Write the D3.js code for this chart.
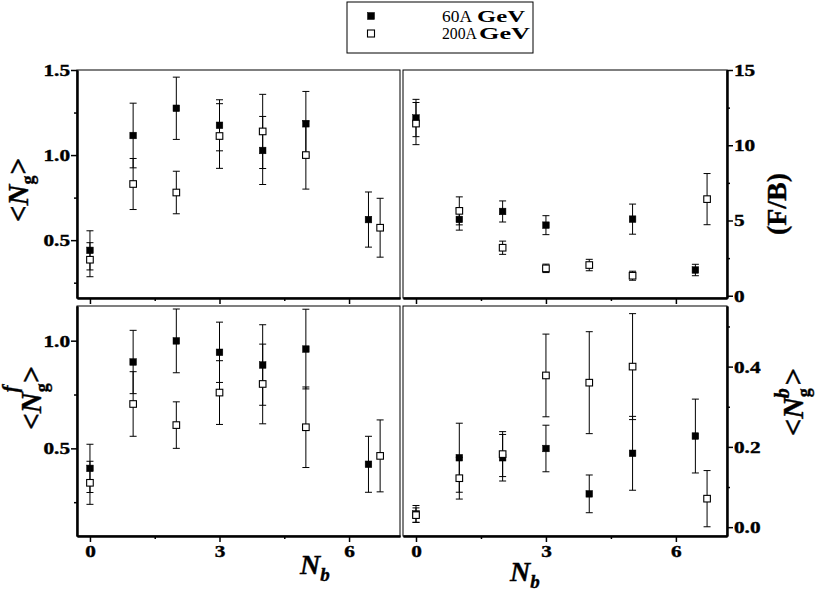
<!DOCTYPE html>
<html>
<head>
<meta charset="utf-8">
<script src="https://cdn.jsdelivr.net/npm/d3@7"></script>
<style>
body { margin: 0; background: #fff; }
svg text { font-family: "Liberation Serif", "Times New Roman", serif; font-weight: bold; fill: #000; }
.heavy { stroke: #000; stroke-width: 0.4px; }
</style>
</head>
<body>
<svg id="chart" width="818" height="596"></svg>
<script>
// N_b positions (last bin drawn slightly offset for each energy)
var nb60 = [0, 1, 2, 3, 4, 5, 6.45];
var nb200 = [0, 1, 2, 3, 4, 5, 6.72];

// <N_g>
var ng60 = [0.44, 1.115, 1.275, 1.175, 1.027, 1.184, 0.621];
var ng60Err = [0.115, 0.19, 0.183, 0.15, 0.2, 0.19, 0.162];
var ng200 = [0.385, 0.83, 0.78, 1.112, 1.139, 1.0, 0.573];
var ng200Err = [0.1, 0.15, 0.125, 0.19, 0.218, 0.2, 0.173];

// F/B
var fb60 = [11.81, 5.07, 5.6, 4.69, null, 5.09, 1.71];
var fb60Err = [1.24, 0.71, 0.7, 0.63, null, 1.0, 0.38];
var fb200 = [11.44, 5.64, 3.19, 1.82, 2.04, 1.33, 6.42];
var fb200Err = [1.4, 0.93, 0.44, 0.28, 0.38, 0.3, 1.7];

// <N_g^f>
var ngf60 = [0.407, 0.901, 0.999, 0.946, 0.887, 0.961, 0.426];
var ngf60Err = [0.112, 0.147, 0.148, 0.14, 0.187, 0.185, 0.13];
var ngf200 = [0.34, 0.706, 0.608, 0.759, 0.799, 0.598, 0.465];
var ngf200Err = [0.1, 0.15, 0.108, 0.148, 0.185, 0.187, 0.167];

// <N_g^b>
var ngb60 = [0.033, 0.173, 0.173, 0.196, 0.083, 0.184, 0.227];
var ngb60Err = [0.021, 0.086, 0.058, 0.058, 0.047, 0.092, 0.092];
var ngb200 = [0.03, 0.122, 0.182, 0.378, 0.36, 0.4, 0.071];
var ngb200Err = [0.018, 0.052, 0.056, 0.103, 0.127, 0.132, 0.07];

var legendLabels = ['60A', '200A'];
var xDomain = [-0.3, 7.18];
var xMajor = [0, 3, 6];
var xMinor = [1.5, 4.5];

var svg = d3.select('#chart');
var stretch = 1.25; // tick labels in the original are wide

function styleAxis(g, width) {
    g.attr('font-size', null).attr('font-family', null);
    g.selectAll('.domain').attr('stroke', '#000').attr('stroke-width', width);
    g.selectAll('.tick line').attr('stroke', '#000').attr('stroke-width', 1.5);
    g.selectAll('.tick text')
        .classed('heavy', true)
        .attr('font-size', 17).style('font-size', '17px').attr('fill', '#000')
        .attr('x', function() {
            var v = d3.select(this).attr('x');
            return v == null ? null : v / stretch;
        })
        .attr('transform', 'scale(' + stretch + ',1)');
}

function drawPanel(p) {
    var x = d3.scaleLinear().domain(xDomain).range([p.left, p.right]);
    var y = d3.scaleLinear().domain(p.yDomain).range([p.bottom, p.top]);

    svg.append('rect')
        .attr('x', p.left).attr('y', p.top)
        .attr('width', p.right - p.left).attr('height', p.bottom - p.top)
        .attr('fill', 'none').attr('stroke', '#000').attr('stroke-width', 1);

    // x axis, minor then major
    var gxm = svg.append('g').attr('transform', 'translate(0,' + p.bottom + ')')
        .call(d3.axisBottom(x).tickValues(xMinor).tickSize(3).tickSizeOuter(0).tickFormat(''));
    styleAxis(gxm, 2);
    var gx = svg.append('g').attr('transform', 'translate(0,' + p.bottom + ')')
        .call(d3.axisBottom(x).tickValues(xMajor).tickSize(6).tickSizeOuter(0).tickPadding(3)
            .tickFormat(p.xLabels ? d3.format('d') : ''));
    styleAxis(gx, 2);

    // y axis on the outer side
    var ax = p.side == 'left' ? d3.axisLeft : d3.axisRight;
    var yx = p.side == 'left' ? p.left : p.right;
    var gym = svg.append('g').attr('transform', 'translate(' + yx + ',0)')
        .call(ax(y).tickValues(p.yMinor).tickSize(3).tickSizeOuter(0).tickFormat(''));
    styleAxis(gym, 2);
    var gy = svg.append('g').attr('transform', 'translate(' + yx + ',0)')
        .call(ax(y).tickValues(p.yMajor).tickSize(6).tickSizeOuter(0).tickPadding(1).tickFormat(d3.format(p.yFormat)));
    styleAxis(gy, 2);

    p.series.forEach(function(s) {
        var pts = s.xs.map(function(v, i) {
            return { x: v, y: s.ys[i], e: s.errs[i] };
        }).filter(function(d) { return d.y != null; });

        var eb = svg.append('g').attr('stroke', '#000').attr('stroke-width', 1);
        pts.forEach(function(d) {
            var cx = x(d.x), hi = y(d.y + d.e), lo = y(d.y - d.e);
            eb.append('line').attr('x1', cx).attr('x2', cx).attr('y1', hi).attr('y2', lo);
            eb.append('line').attr('x1', cx - 3.5).attr('x2', cx + 3.5).attr('y1', hi).attr('y2', hi);
            eb.append('line').attr('x1', cx - 3.5).attr('x2', cx + 3.5).attr('y1', lo).attr('y2', lo);
        });

        svg.append('g').selectAll('rect').data(pts).join('rect')
            .attr('x', function(d) { return x(d.x) - 3.3; })
            .attr('y', function(d) { return y(d.y) - 3.3; })
            .attr('width', 6.6).attr('height', 6.6)
            .attr('fill', s.filled ? '#000' : '#fff')
            .attr('stroke', '#000').attr('stroke-width', s.filled ? 0.5 : 1.1);
    });
}

function series(ys60, err60, ys200, err200) {
    return [
        { xs: nb60, ys: ys60, errs: err60, filled: true },
        { xs: nb200, ys: ys200, errs: err200, filled: false }
    ];
}

var top0 = 70, top1 = 298, bot0 = 306, bot1 = 536;
var left0 = 77, left1 = 400, right0 = 403, right1 = 727;

drawPanel({ left: left0, right: left1, top: top0, bottom: top1, yDomain: [0.16, 1.5],
    yMajor: [0.5, 1.0, 1.5], yMinor: [0.25, 0.75, 1.25], yFormat: '.1f', side: 'left', xLabels: false,
    series: series(ng60, ng60Err, ng200, ng200Err) });
drawPanel({ left: right0, right: right1, top: top0, bottom: top1, yDomain: [-0.15, 15],
    yMajor: [0, 5, 10, 15], yMinor: [2.5, 7.5, 12.5], yFormat: 'd', side: 'right', xLabels: false,
    series: series(fb60, fb60Err, fb200, fb200Err) });
drawPanel({ left: left0, right: left1, top: bot0, bottom: bot1, yDomain: [0.093, 1.161],
    yMajor: [0.5, 1.0], yMinor: [0.25, 0.75], yFormat: '.1f', side: 'left', xLabels: true,
    series: series(ngf60, ngf60Err, ngf200, ngf200Err) });
drawPanel({ left: right0, right: right1, top: bot0, bottom: bot1, yDomain: [-0.022, 0.551],
    yMajor: [0, 0.2, 0.4], yMinor: [0.1, 0.3, 0.5], yFormat: '.1f', side: 'right', xLabels: true,
    series: series(ngb60, ngb60Err, ngb200, ngb200Err) });

// axis titles
function title(tx, ty, rotate, size, parts) {
    var t = svg.append('text').classed('heavy', true)
        .attr('transform', 'translate(' + tx + ',' + ty + ')' + (rotate ? ' rotate(-90)' : ''))
        .attr('text-anchor', rotate ? 'middle' : 'start')
        .style('font-size', size + 'px');
    parts.forEach(function(pt) {
        var s = t.append('tspan').text(pt.t);
        if (pt.italic) s.style('font-style', 'italic');
        if (pt.size) s.style('font-size', pt.size + 'px');
        if (pt.dx) s.attr('dx', pt.dx);
        if (pt.dy) s.attr('dy', pt.dy);
    });
}

title(28, 190, true, 29, [{ t: '<' }, { t: 'N', italic: true }, { t: 'g', size: 18, dy: 6 }, { t: '>', dy: -6, dx: 1 }]);
title(786, 204, true, 28, [{ t: '(F/B)' }]);
title(41, 398, true, 29, [{ t: '<' }, { t: 'N', italic: true }, { t: 'g', size: 18, dy: 7 },
    { t: 'f', size: 20, italic: true, dx: -9, dy: -31 }, { t: '>', dy: 24, dx: 3 }]);
title(803, 402, true, 30, [{ t: '<' }, { t: 'N', italic: true }, { t: 'g', size: 18, dy: 7 },
    { t: 'b', size: 20, italic: true, dx: -10, dy: -21 }, { t: '>', dy: 14, dx: 3 }]);
title(300, 574, false, 28, [{ t: 'N', italic: true }, { t: 'b', italic: true, size: 19, dy: 7 }]);
title(510, 581, false, 28, [{ t: 'N', italic: true }, { t: 'b', italic: true, size: 19, dy: 7 }]);

// legend
var lg = svg.append('g');
lg.append('rect').attr('x', 347).attr('y', 2).attr('width', 186).attr('height', 51)
    .attr('fill', '#fff').attr('stroke', '#000').attr('stroke-width', 1);
legendLabels.forEach(function(lab, i) {
    var cy = 16 + i * 17.5;
    lg.append('rect').attr('x', 371 - 3.5).attr('y', cy - 3.5).attr('width', 7).attr('height', 7)
        .attr('fill', i == 0 ? '#000' : '#fff').attr('stroke', '#000').attr('stroke-width', i == 0 ? 0.5 : 1.1);
    lg.append('text').attr('x', 442).attr('y', cy + 5.5).style('font-size', '16px').style('font-weight', 'normal')
        .attr('textLength', i == 0 ? 30 : 35).attr('lengthAdjust', 'spacingAndGlyphs').text(lab);
    lg.append('text').attr('x', i == 0 ? 477 : 479).attr('y', cy + 5.5).style('font-size', '16px')
        .attr('textLength', i == 0 ? 48 : 51).attr('lengthAdjust', 'spacingAndGlyphs').text('GeV');
});
</script>
</body>
</html>
